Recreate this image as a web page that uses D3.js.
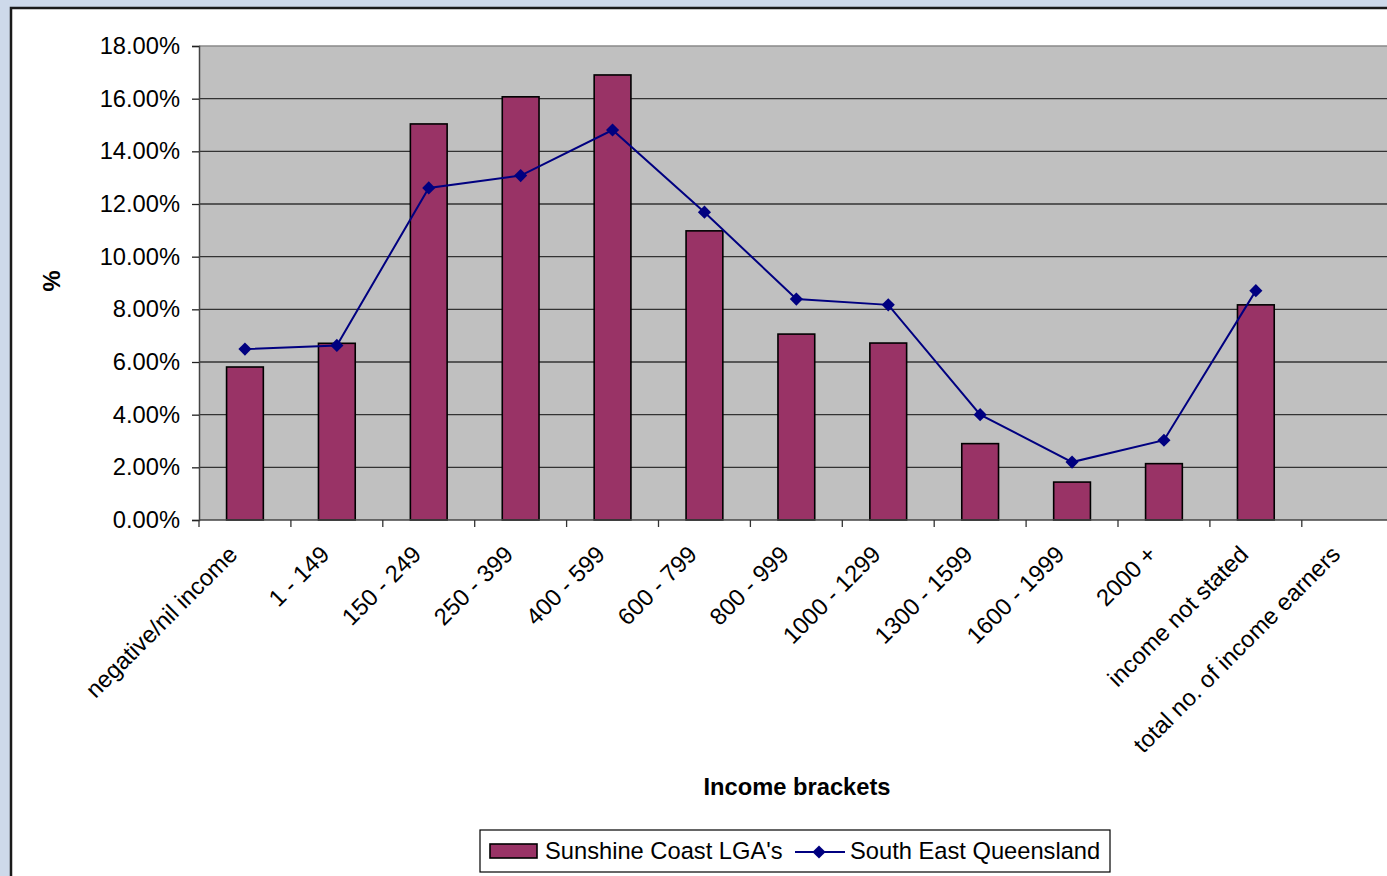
<!DOCTYPE html>
<html>
<head>
<meta charset="utf-8">
<script src="https://cdn.jsdelivr.net/npm/d3@7"></script>
<style>
  html, body { margin: 0; padding: 0; background: #cdd9ea; }
  svg { display: block; font-family: "Liberation Sans", Arial, sans-serif; }
</style>
</head>
<body>
<svg id="chart" width="1387" height="876"></svg>
<script>
// Income brackets (weekly $) and share of income earners in each
const categories = [
  "negative/nil income", "1 - 149", "150 - 249", "250 - 399", "400 - 599",
  "600 - 799", "800 - 999", "1000 - 1299", "1300 - 1599", "1600 - 1999",
  "2000 +", "income not stated", "total no. of income earners"
];
const sunshineCoast = [5.81, 6.71, 15.04, 16.07, 16.90, 10.98, 7.06, 6.72, 2.90, 1.44, 2.14, 8.17, null];
const seQueensland  = [6.49, 6.63, 12.61, 13.08, 14.81, 11.69, 8.39, 8.17, 4.00, 2.20, 3.03, 8.71, null];
const yTicks = [0, 2, 4, 6, 8, 10, 12, 14, 16, 18];
const seriesNames = ["Sunshine Coast LGA's", "South East Queensland"];

const svg = d3.select("#chart");
const FONT = 23.7;

// white chart panel
svg.append("rect")
  .attr("x", 11).attr("y", 8).attr("width", 1400).attr("height", 900)
  .attr("fill", "#fff").attr("stroke", "#1a1a1a").attr("stroke-width", 2.5);

const plotLeft = 199, plotTop = 46, plotBottom = 520, band = 91.9;
const plotRight = plotLeft + band * categories.length;
const x = d3.scaleBand().domain(categories)
  .range([plotLeft, plotRight])
  .paddingInner(0).paddingOuter(0);
const y = d3.scaleLinear().domain([0, 18]).range([plotBottom, plotTop]);

// plot background
svg.append("rect")
  .attr("x", plotLeft).attr("y", plotTop)
  .attr("width", plotRight - plotLeft).attr("height", plotBottom - plotTop)
  .attr("fill", "#c0c0c0");

// gridlines
svg.append("g").selectAll("line")
  .data(yTicks.filter(d => d > 0))
  .join("line")
  .attr("x1", plotLeft).attr("x2", plotRight)
  .attr("y1", d => y(d)).attr("y2", d => y(d))
  .attr("stroke", d => d === 18 ? "#8a8a8a" : "#333")
  .attr("stroke-width", 1.3);

// y axis
const yAxis = d3.axisLeft(y).tickValues(yTicks)
  .tickFormat(d => d.toFixed(2) + "%")
  .tickSize(7).tickPadding(12);
const gy = svg.append("g").attr("transform", `translate(${plotLeft},0)`).call(yAxis);
gy.select(".domain").attr("stroke", "#444").attr("stroke-width", 1.5);
gy.selectAll(".tick line").attr("stroke", "#222").attr("stroke-width", 1.3);
gy.selectAll(".tick text")
  .attr("font-size", FONT).attr("fill", "#000")
  .attr("font-family", "Liberation Sans, Arial, sans-serif");

// bars
svg.append("g").selectAll("rect")
  .data(categories.map((c, i) => ({ c, v: sunshineCoast[i] })).filter(d => d.v != null))
  .join("rect")
  .attr("x", d => x(d.c) + band * 0.3)
  .attr("width", band * 0.4)
  .attr("y", d => y(d.v))
  .attr("height", d => plotBottom - y(d.v))
  .attr("fill", "#993366")
  .attr("stroke", "#000").attr("stroke-width", 1.6);

// x axis baseline and ticks at band boundaries
const gx = svg.append("g");
gx.append("line")
  .attr("x1", plotLeft).attr("x2", plotRight)
  .attr("y1", plotBottom).attr("y2", plotBottom)
  .attr("stroke", "#444").attr("stroke-width", 1.5);
gx.selectAll("line.tick")
  .data(categories)
  .join("line").attr("class", "tick")
  .attr("x1", d => x(d) + band).attr("x2", d => x(d) + band)
  .attr("y1", plotBottom).attr("y2", plotBottom + 7)
  .attr("stroke", "#333").attr("stroke-width", 1.3);
gx.append("line")
  .attr("x1", plotLeft).attr("x2", plotLeft)
  .attr("y1", plotBottom).attr("y2", plotBottom + 7)
  .attr("stroke", "#333").attr("stroke-width", 1.3);

// rotated category labels
gx.selectAll("text")
  .data(categories)
  .join("text")
  .attr("transform", d => `translate(${x(d) + band / 2 - 12},${plotBottom + 30}) rotate(-45)`)
  .attr("text-anchor", "end")
  .attr("dy", "0.35em")
  .attr("font-size", FONT)
  .text(d => d);

// line series
const pts = categories.map((c, i) => ({ c, v: seQueensland[i] })).filter(d => d.v != null);
const line = d3.line().x(d => x(d.c) + band / 2).y(d => y(d.v));
svg.append("path").datum(pts)
  .attr("d", line).attr("fill", "none")
  .attr("stroke", "#000080").attr("stroke-width", 2);
const diamond = d3.symbol().type(d3.symbolDiamond2).size(110);
svg.append("g").selectAll("path")
  .data(pts).join("path")
  .attr("d", diamond)
  .attr("transform", d => `translate(${x(d.c) + band / 2},${y(d.v)})`)
  .attr("fill", "#000080");

// axis titles
svg.append("text")
  .attr("transform", "translate(52,281) rotate(-90)")
  .attr("text-anchor", "middle").attr("dy", "0.35em")
  .attr("font-size", FONT).attr("font-weight", "bold")
  .text("%");
svg.append("text")
  .attr("x", 797).attr("y", 795)
  .attr("text-anchor", "middle")
  .attr("font-size", FONT).attr("font-weight", "bold")
  .text("Income brackets");

// legend
const lg = svg.append("g");
lg.append("rect")
  .attr("x", 480).attr("y", 830).attr("width", 630).attr("height", 42)
  .attr("fill", "#fff").attr("stroke", "#000").attr("stroke-width", 1.2);
lg.append("rect")
  .attr("x", 490).attr("y", 844).attr("width", 47).attr("height", 14)
  .attr("fill", "#993366").attr("stroke", "#000").attr("stroke-width", 1.6);
lg.append("text")
  .attr("x", 545).attr("y", 851).attr("dy", "0.35em")
  .attr("font-size", FONT).text(seriesNames[0]);
lg.append("line")
  .attr("x1", 795).attr("x2", 845).attr("y1", 852).attr("y2", 852)
  .attr("stroke", "#000080").attr("stroke-width", 2);
lg.append("path")
  .attr("d", diamond)
  .attr("transform", "translate(819,852)")
  .attr("fill", "#000080");
lg.append("text")
  .attr("x", 850).attr("y", 851).attr("dy", "0.35em")
  .attr("font-size", FONT).text(seriesNames[1]);
</script>
</body>
</html>
